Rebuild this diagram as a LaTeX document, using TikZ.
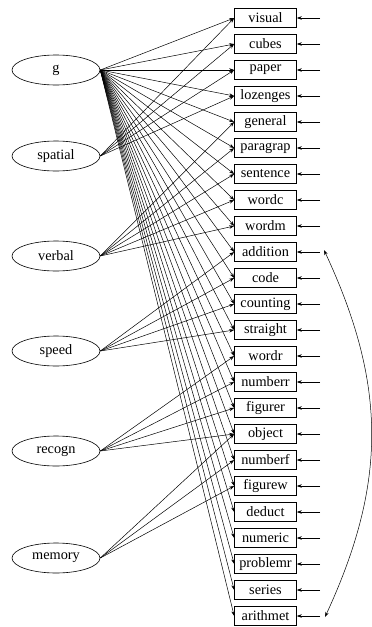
\documentclass[tikz,border=0pt]{standalone}
\usepackage{fontspec}
\setmainfont{Liberation Serif}
\usetikzlibrary{arrows.meta,shapes.geometric}
\begin{document}
\begin{tikzpicture}[x=1pt,y=-1pt,
  font=\fontsize{14.3}{16}\selectfont,
  latent/.style={ellipse,draw,line width=0.6pt,minimum width=88pt,minimum height=30pt,inner sep=0pt},
  obs/.style={draw,line width=0.6pt,minimum width=62pt,minimum height=19pt,inner sep=0pt},
  tip/.tip={Stealth[length=5pt,width=3.5pt]},
  load/.style={-tip,line width=0.5pt},
  err/.style={-tip,line width=0.5pt},
  cov/.style={tip-tip,line width=0.5pt}]
\useasboundingbox (0,0) rectangle (372,627);
\node[latent] (g) at (56,70) {g};
\node[latent] (spatial) at (56,156) {spatial};
\node[latent] (verbal) at (56,256) {verbal};
\node[latent] (speed) at (56,351) {speed};
\node[latent] (recogn) at (56,451) {recogn};
\node[latent] (memory) at (56,558) {memory};
\foreach \n [count=\i from 0] in {visual,cubes,paper,lozenges,general,paragrap,sentence,wordc,wordm,addition,code,counting,straight,wordr,numberr,figurer,object,numberf,figurew,deduct,numeric,problemr,series,arithmet}{
  \node[obs] (\n) at (265.5,18+26*\i) {\n};
  \coordinate (e\n) at (320,18+26*\i);
  \draw[err] (e\n) -- (\n.east);
  \draw[load] (g.east) -- (\n.west);
}
\foreach \n in {visual,cubes,paper,lozenges} \draw[load] (spatial.east) -- (\n.west);
\foreach \n in {general,paragrap,sentence,wordc,wordm} \draw[load] (verbal.east) -- (\n.west);
\foreach \n in {addition,code,counting,straight} \draw[load] (speed.east) -- (\n.west);
\foreach \n in {wordr,numberr,figurer,object} \draw[load] (recogn.east) -- (\n.west);
\foreach \n in {object,numberf,figurew} \draw[load] (memory.east) -- (\n.west);
\coordinate (ca) at (324,250);
\coordinate (cb) at (325,617);
\draw[cov] (ca) .. controls (387,385) and (387,483) .. (cb);
\end{tikzpicture}
\end{document}
